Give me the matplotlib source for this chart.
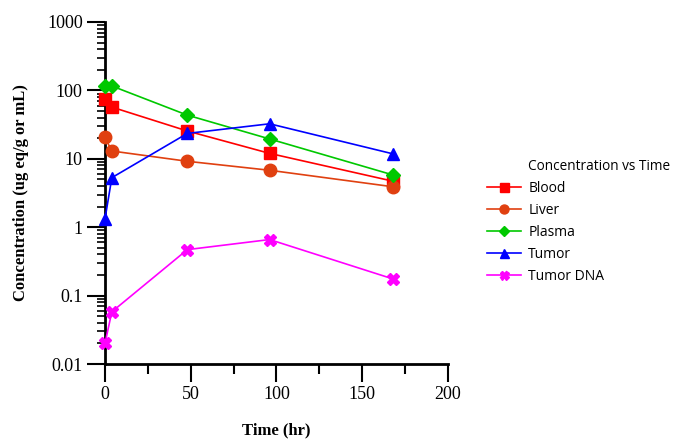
import matplotlib
matplotlib.use("Agg")
import matplotlib.pyplot as plt
from matplotlib.ticker import LogLocator, FixedLocator, NullFormatter, FixedFormatter

time_blood = [0, 4, 48, 96, 168]
blood = [74, 57, 25.5, 12.0, 4.7]
time_liver = [0, 4, 48, 96, 168]
liver = [20.5, 13.0, 9.2, 6.8, 3.9]
time_plasma = [0, 4, 48, 96, 168]
plasma = [116, 116, 43.5, 19.5, 5.8]
time_tumor = [0, 4, 48, 96, 168]
tumor = [1.32, 5.3, 23.5, 32.5, 11.8]
time_dna = [0, 4, 48, 96, 168]
tumor_dna = [0.02, 0.058, 0.47, 0.66, 0.175]

series_names = ["Blood", "Liver", "Plasma", "Tumor", "Tumor DNA"]
colors = ["#FF0000", "#E04010", "#00C800", "#0000FF", "#FF00FF"]
markers = ["s", "o", "D", "^", "X"]
msizes = [9, 9, 7, 9, 9]

y_ticks = [0.01, 0.1, 1, 10, 100, 1000]
y_labels = ["0.01", "0.1", "1", "10", "100", "1000"]
x_ticks = [0, 50, 100, 150, 200]

plt.rcParams["font.family"] = ["Liberation Serif"]

fig = plt.figure(figsize=(6.76, 4.40), dpi=100)
ax = fig.add_axes([0.1553, 0.1727, 0.5074, 0.7773])

data = [(time_blood, blood), (time_liver, liver), (time_plasma, plasma),
        (time_tumor, tumor), (time_dna, tumor_dna)]
for i, ((t, v), name, c, m, ms) in enumerate(zip(data, series_names, colors, markers, msizes)):
    ax.plot(t, v, color=c, marker=m, markersize=ms, linewidth=1.2,
            markeredgecolor=c, markerfacecolor=c, label=name, clip_on=False, zorder=3 + i)

ax.set_yscale("log")
ax.set_ylim(0.01, 1000)
ax.set_xlim(0, 200)

ax.yaxis.set_major_locator(FixedLocator(y_ticks))
ax.yaxis.set_major_formatter(FixedFormatter(y_labels))
ax.yaxis.set_minor_locator(LogLocator(base=10, subs=range(2, 10), numticks=20))
ax.yaxis.set_minor_formatter(NullFormatter())
ax.xaxis.set_major_locator(FixedLocator(x_ticks))
ax.xaxis.set_minor_locator(FixedLocator([25, 75, 125, 175]))

for s in ["top", "right"]:
    ax.spines[s].set_visible(False)
for s in ["left", "bottom"]:
    ax.spines[s].set_linewidth(2.0)

ax.tick_params(axis="both", which="major", direction="out", length=13, width=1.5,
               labelsize=13, pad=3)
ax.tick_params(axis="y", which="minor", direction="out", length=6, width=1.2)
ax.tick_params(axis="x", which="minor", direction="out", length=7, width=1.5)

ax.set_xlabel("Time (hr)", fontweight="bold", fontsize=12, labelpad=14)
ax.set_ylabel("Concentration (ug eq/g or mL)", fontweight="bold", fontsize=12,
              labelpad=13)

leg = fig.legend(loc="upper left", bbox_to_anchor=(0.721, 0.588), frameon=False,
                 prop={"family": "Open Sans", "size": 10},
                 handlelength=2.4, handletextpad=0.55, labelspacing=0.5,
                 markerscale=0.72, borderpad=0, borderaxespad=0)
fig.text(0.781, 1 - 166 / 440, "Concentration vs Time", family="Open Sans",
         fontsize=9.8, va="center", ha="left")

fig.savefig("out.png", dpi=100)
